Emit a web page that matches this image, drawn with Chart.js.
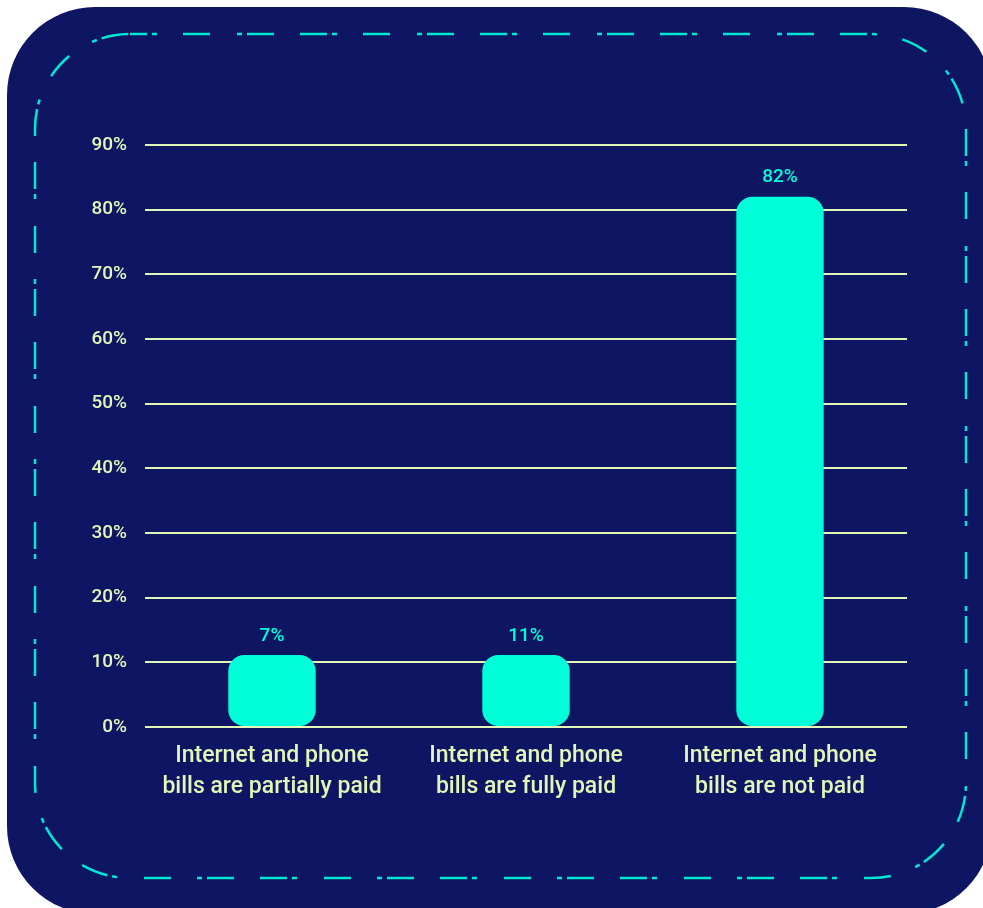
<!DOCTYPE html>
<html>
<head>
<meta charset="utf-8">
<script src="https://cdn.jsdelivr.net/npm/chart.js@4/dist/chart.umd.min.js"></script>
<style>
  html, body { margin: 0; padding: 0; background: #ffffff; }
  #wrap { width: 983px; height: 908px; }
</style>
</head>
<body>
<div id="wrap"><canvas id="myChart" width="983" height="908"></canvas></div>
<script>
const categories = [
  ["Internet and phone", "bills are partially paid"],
  ["Internet and phone", "bills are fully paid"],
  ["Internet and phone", "bills are not paid"],
];
const values = [7, 11, 82];
const yTicks = [0, 10, 20, 30, 40, 50, 60, 70, 80, 90];

const navy = "#0e1562";
const cyan = "#00ffd8";
const pale = "#e2f6b6";

function roundRect(ctx, x, y, w, h, r) {
  ctx.beginPath();
  ctx.moveTo(x + r, y);
  ctx.lineTo(x + w - r, y);
  ctx.arcTo(x + w, y, x + w, y + r, r);
  ctx.lineTo(x + w, y + h - r);
  ctx.arcTo(x + w, y + h, x + w - r, y + h, r);
  ctx.lineTo(x + r, y + h);
  ctx.arcTo(x, y + h, x, y + h - r, r);
  ctx.lineTo(x, y + r);
  ctx.arcTo(x, y, x + r, y, r);
  ctx.closePath();
}

// background card + dash-dot frame
const cardPlugin = {
  id: "card",
  beforeDraw(chart) {
    const ctx = chart.ctx;
    ctx.save();
    ctx.fillStyle = navy;
    roundRect(ctx, 7, 7, 985, 907, 88);
    ctx.fill();
    ctx.strokeStyle = "#00e8d4";
    ctx.lineWidth = 2.5;
    ctx.setLineDash([27, 5, 5, 26, 27, 27, 5, 5, 27, 26]);
    ctx.lineDashOffset = 10;
    roundRect(ctx, 35, 34, 931, 844, 95);
    ctx.stroke();
    ctx.restore();
  },
};

// value labels above bars
const valueLabels = {
  id: "valueLabels",
  afterDatasetsDraw(chart) {
    const ctx = chart.ctx;
    const meta = chart.getDatasetMeta(0);
    ctx.save();
    ctx.fillStyle = cyan;
    ctx.font = "500 19px Roboto";
    ctx.textAlign = "center";
    ctx.textBaseline = "middle";
    meta.data.forEach((bar, i) => {
      ctx.fillText(values[i] + "%", bar.x, bar.y - 19);
    });
    ctx.restore();
  },
};

const ctx = document.getElementById("myChart").getContext("2d");
const myChart = new Chart(ctx, {
  type: "bar",
  data: {
    labels: categories,
    datasets: [
      {
        data: values,
        backgroundColor: cyan,
        borderRadius: 16,
        borderSkipped: false,
        minBarLength: 72,
        barPercentage: 0.344,
        categoryPercentage: 1,
      },
    ],
  },
  options: {
    responsive: false,
    animation: false,
    layout: { padding: { top: 145, left: 2, right: 76, bottom: 81 } },
    plugins: { legend: { display: false }, tooltip: { enabled: false } },
    scales: {
      x: {
        grid: { display: false },
        border: { display: false },
        ticks: {
          color: pale,
          font: { family: "Roboto", size: 23, weight: "500", lineHeight: 1.35 },
          padding: 6,
          maxRotation: 0,
          autoSkip: false,
        },
        afterFit: (s) => { s.height = 100; },
      },
      y: {
        min: 0,
        max: 90,
        afterBuildTicks: (s) => { s.ticks = yTicks.map((v) => ({ value: v })); },
        grid: { color: pale, lineWidth: 2, drawTicks: false },
        border: { display: false },
        ticks: {
          color: pale,
          font: { family: "Roboto", size: 19, weight: "500" },
          padding: 18,
          callback: (v) => v + "%",
        },
        afterFit: (s) => { s.width = 143; },
      },
    },
  },
  plugins: [cardPlugin, valueLabels],
});
</script>
</body>
</html>
